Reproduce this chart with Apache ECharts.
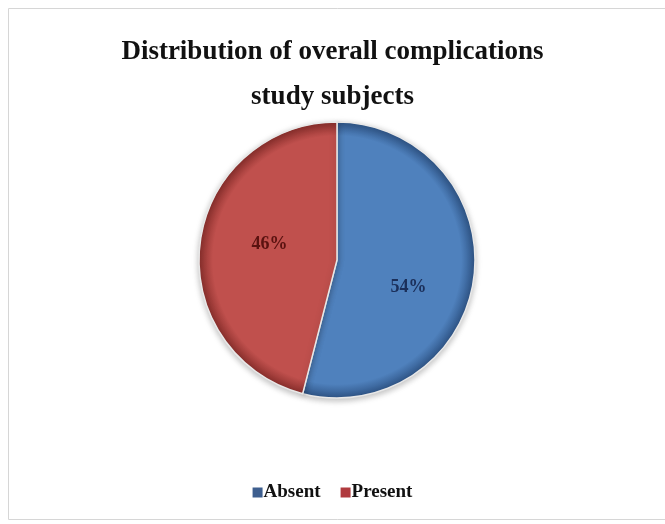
<!DOCTYPE html>
<html>
<head>
<meta charset="utf-8">
<script src="https://cdn.jsdelivr.net/npm/echarts@6/dist/echarts.min.js"></script>
<style>
  html, body { margin: 0; padding: 0; background: #fff; }
  #chart { width: 665px; height: 524px; }
</style>
</head>
<body>
<div id="chart"></div>
<script>
// 数据
var categories = ['Absent', 'Present']
var values = [54, 46]
var sliceColors = ['#4F81BD', '#C0504D']
var edgeColors = ['#2f5587', '#8a2f2c']
var labelColors = ['#1b2f5a', '#5a1210']
var legendColors = ['#3e5f8f', '#b03a3e']

var pieCenter = [337, 260]
var pieRadius = 138

var chart = echarts.init(document.getElementById('chart'))

// 边缘加深，做出一点立体感
function sliceFill (i) {
  return {
    type: 'radial', x: pieCenter[0], y: pieCenter[1], r: pieRadius, global: true,
    colorStops: [
      { offset: 0, color: sliceColors[i] },
      { offset: 0.9, color: sliceColors[i] },
      { offset: 1, color: edgeColors[i] }
    ]
  }
}

chart.setOption({
  animation: false,
  graphic: [
    {
      type: 'rect',
      shape: { x: 8.5, y: 8.5, width: 700, height: 511 },
      style: { fill: 'none', stroke: '#d6d6d6', lineWidth: 1 }
    }
  ],
  title: {
    text: 'Distribution of overall complications\nstudy subjects',
    left: 'center',
    top: 25,
    textStyle: {
      fontFamily: 'Liberation Serif',
      fontWeight: 'bold',
      fontSize: 27,
      lineHeight: 45,
      color: '#111'
    }
  },
  legend: {
    bottom: 17,
    left: 'center',
    icon: 'rect',
    itemWidth: 10,
    itemHeight: 10,
    itemGap: 20,
    textStyle: {
      fontFamily: 'Liberation Serif',
      fontWeight: 'bold',
      fontSize: 19,
      color: '#111',
      padding: [0, 0, 0, -4]
    },
    data: categories.map(function (name, i) {
      return { name: name, itemStyle: { color: legendColors[i], borderWidth: 0, shadowBlur: 0 } }
    })
  },
  series: [
    {
      type: 'pie',
      center: pieCenter,
      radius: pieRadius,
      startAngle: 90,
      clockwise: true,
      silent: true,
      label: {
        position: 'inside',
        formatter: '{d}%',
        fontFamily: 'Liberation Serif',
        fontWeight: 'bold',
        fontSize: 18
      },
      labelLine: { show: false },
      itemStyle: {
        borderColor: '#e8e8e8',
        borderWidth: 1.5,
        shadowColor: 'rgba(0,0,0,0.25)',
        shadowBlur: 6,
        shadowOffsetY: 2
      },
      data: categories.map(function (name, i) {
        return {
          name: name,
          value: values[i],
          itemStyle: { color: sliceFill(i) },
          label: { color: labelColors[i], offset: i === 0 ? [0, 18] : [4, -7] }
        }
      })
    }
  ],
  color: sliceColors
})
</script>
</body>
</html>
